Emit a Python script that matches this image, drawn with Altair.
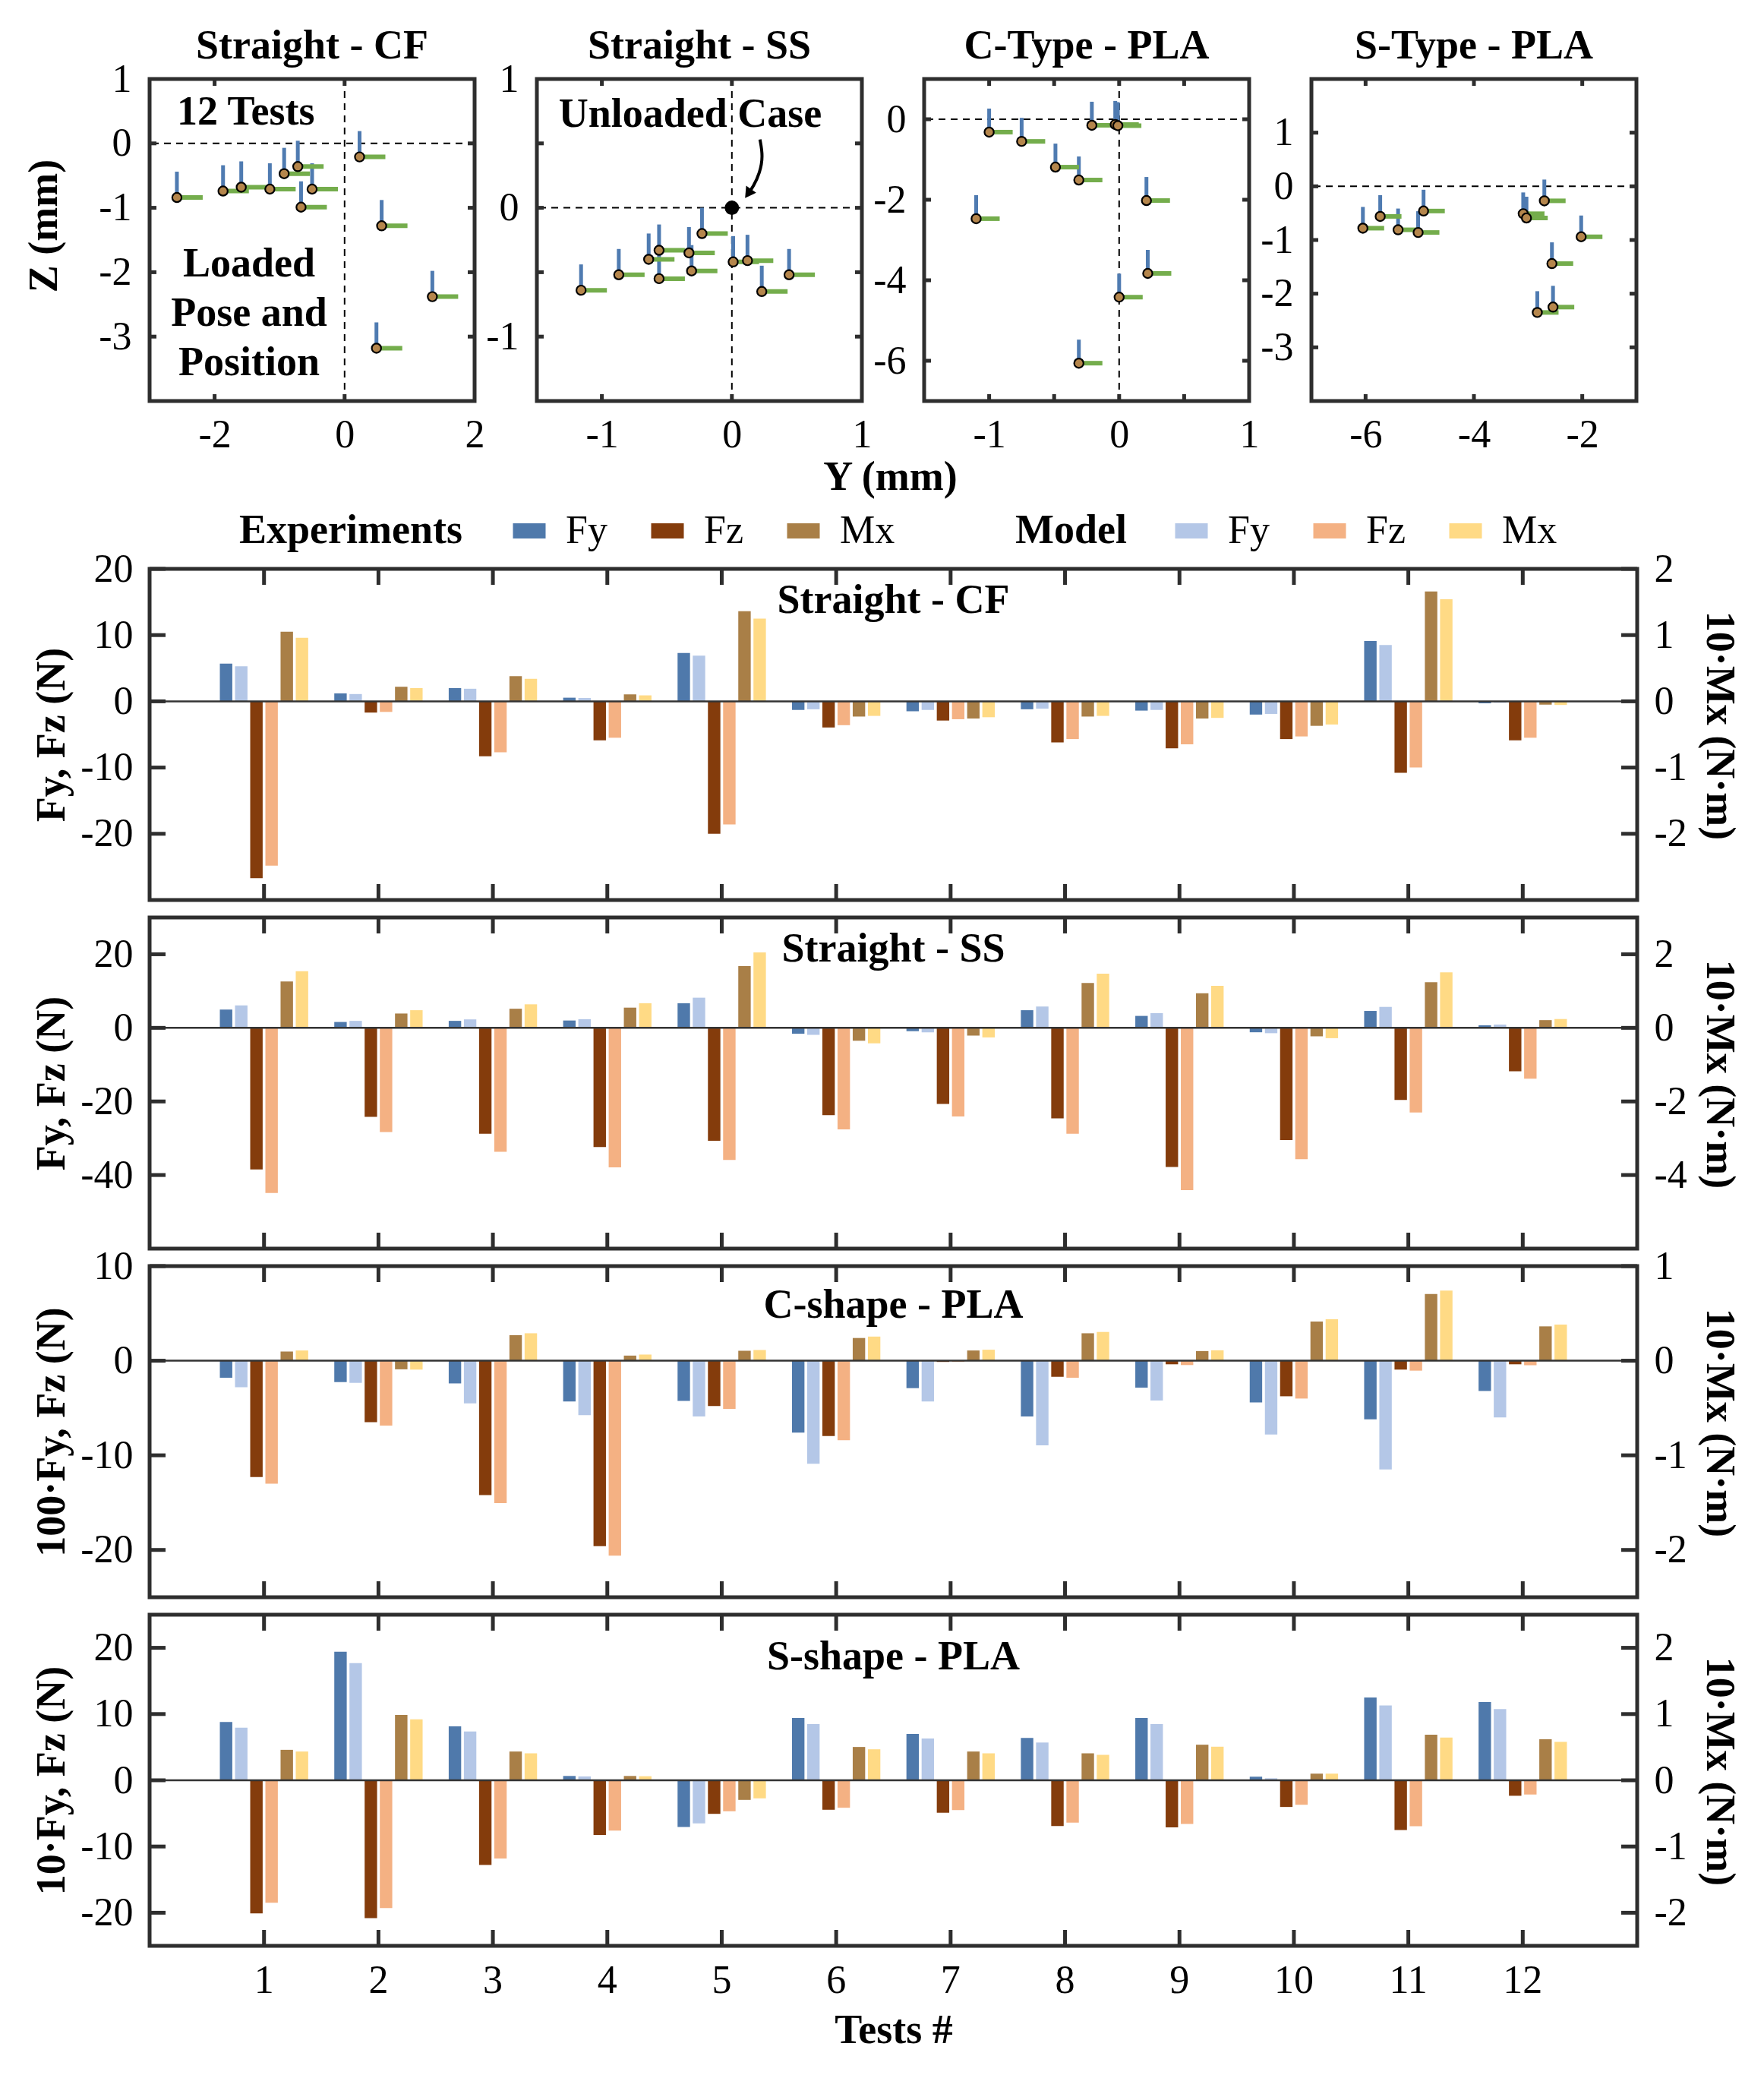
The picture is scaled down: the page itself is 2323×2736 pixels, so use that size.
import altair as alt
import pandas as pd

FONT = "Liberation Serif"
FRAME = "#2e2e2e"
TAN = "#b5864c"
ARM_BLUE = "#4f7bb1"
ARM_GREEN = "#74ad4c"

# ---------------- top row: loaded pose and position (Y, Z in mm) ----------------
CF_Y = [-2.58, -1.87, -1.59, -1.15, -0.93, -0.72, -0.50, -0.67, 0.23, 0.57, 1.35, 0.49]
CF_Z = [-0.84, -0.74, -0.68, -0.71, -0.47, -0.36, -0.71, -0.99, -0.21, -1.28, -2.38, -3.18]
SS_Y = [-1.16, -0.87, -0.64, -0.56, -0.56, -0.33, -0.31, -0.23, 0.01, 0.12, 0.23, 0.44]
SS_Z = [-0.64, -0.52, -0.40, -0.33, -0.55, -0.35, -0.49, -0.20, -0.42, -0.41, -0.65, -0.52]
CT_Y = [-1.00, -0.75, -0.49, -0.31, -1.10, -0.21, -0.03, -0.01, 0.21, 0.22, 0.00, -0.31]
CT_Z = [-0.32, -0.55, -1.19, -1.51, -2.47, -0.15, -0.13, -0.16, -2.02, -3.83, -4.42, -6.06]
ST_Y = [-6.05, -5.73, -5.40, -5.03, -4.93, -3.09, -3.03, -2.70, -2.02, -2.56, -2.54, -2.83]
ST_Z = [-0.78, -0.56, -0.81, -0.86, -0.46, -0.51, -0.59, -0.27, -0.94, -1.44, -2.25, -2.35]
UNLOADED_Y = [0.0]
UNLOADED_Z = [0.0]

# annotations
CF_NOTE_TEXT = ["12 Tests", "Loaded", "Pose and", "Position"]
CF_NOTE_Y = [-1.52, -1.47, -1.47, -1.47]
CF_NOTE_Z = [0.48, -1.88, -2.64, -3.41]
SS_NOTE_TEXT = ["Unloaded Case"]
SS_NOTE_Y = [-0.32]
SS_NOTE_Z = [0.72]
ARROW_Y = [0.216, 0.240, 0.215, 0.165, 0.125]
ARROW_Z = [0.53, 0.40, 0.27, 0.165, 0.110]

# ---------------- bar panels ----------------
TESTS = list(range(1, 13))
SERIES = ["Fy exp", "Fy mod", "Fz exp", "Fz mod", "Mx exp", "Mx mod"]
SERIES_COLORS = ["#4f79ab", "#b4c7e7", "#843c0c", "#f4b183", "#a97f47", "#ffda85"]
LEGEND_ITEMS = ["Fy", "Fz", "Mx"]
EXP_COLORS = ["#4f79ab", "#843c0c", "#a97f47"]
MOD_COLORS = ["#b4c7e7", "#f4b183", "#ffda85"]

CF_FY_EXP = [5.7, 1.2, 2.0, 0.55, 7.3, -1.3, -1.5, -1.2, -1.4, -2.0, 9.1, -0.3]
CF_FY_MOD = [5.3, 1.1, 1.9, 0.5, 6.9, -1.2, -1.3, -1.1, -1.3, -1.9, 8.5, -0.2]
CF_FZ_EXP = [-26.7, -1.7, -8.3, -5.9, -20.0, -3.95, -2.9, -6.2, -7.1, -5.7, -10.8, -5.9]
CF_FZ_MOD = [-24.8, -1.6, -7.7, -5.5, -18.6, -3.6, -2.7, -5.7, -6.5, -5.3, -10.0, -5.5]
CF_MX_EXP = [1.05, 0.22, 0.38, 0.105, 1.36, -0.23, -0.26, -0.23, -0.26, -0.37, 1.66, -0.05]
CF_MX_MOD = [0.96, 0.20, 0.34, 0.09, 1.25, -0.22, -0.24, -0.22, -0.25, -0.35, 1.54, -0.055]

SS_FY_EXP = [4.98, 1.6, 1.9, 2.0, 6.7, -1.6, -0.9, 4.8, 3.25, -1.2, 4.6, 0.7]
SS_FY_MOD = [6.1, 1.9, 2.3, 2.35, 8.2, -1.9, -1.2, 5.8, 4.0, -1.45, 5.7, 0.9]
SS_FZ_EXP = [-38.5, -24.2, -28.8, -32.4, -30.7, -23.7, -20.7, -24.6, -37.8, -30.5, -19.6, -11.8]
SS_FZ_MOD = [-44.9, -28.3, -33.7, -37.9, -35.9, -27.6, -24.1, -28.8, -44.1, -35.7, -23.0, -13.8]
SS_MX_EXP = [1.26, 0.39, 0.52, 0.55, 1.68, -0.35, -0.21, 1.22, 0.94, -0.23, 1.24, 0.21]
SS_MX_MOD = [1.54, 0.48, 0.64, 0.67, 2.05, -0.42, -0.26, 1.47, 1.14, -0.28, 1.51, 0.24]

C_FY_EXP = [-1.8, -2.26, -2.4, -4.3, -4.25, -7.6, -2.9, -5.9, -2.85, -4.4, -6.2, -3.2]
C_FY_MOD = [-2.8, -2.34, -4.5, -5.75, -5.9, -10.9, -4.3, -8.95, -4.2, -7.8, -11.5, -6.0]
C_FZ_EXP = [-12.3, -6.5, -14.2, -19.6, -4.8, -7.96, -0.13, -1.7, -0.38, -3.76, -0.94, -0.38]
C_FZ_MOD = [-13.0, -6.85, -15.05, -20.6, -5.1, -8.4, -0.13, -1.8, -0.46, -4.0, -1.05, -0.48]
C_MX_EXP = [0.097, -0.091, 0.27, 0.054, 0.105, 0.24, 0.108, 0.29, 0.102, 0.414, 0.704, 0.363]
C_MX_MOD = [0.108, -0.094, 0.29, 0.065, 0.113, 0.255, 0.116, 0.304, 0.11, 0.438, 0.742, 0.382]

S_FY_EXP = [8.8, 19.4, 8.14, 0.65, -7.06, 9.4, 7.0, 6.4, 9.4, 0.54, 12.5, 11.8]
S_FY_MOD = [7.95, 17.7, 7.37, 0.58, -6.5, 8.5, 6.3, 5.7, 8.5, 0.3, 11.3, 10.75]
S_FZ_EXP = [-20.1, -20.8, -12.8, -8.25, -5.07, -4.45, -4.9, -6.9, -7.1, -4.03, -7.5, -2.34]
S_FZ_MOD = [-18.5, -19.3, -11.8, -7.6, -4.68, -4.15, -4.5, -6.4, -6.6, -3.7, -6.95, -2.15]
S_MX_EXP = [0.46, 0.987, 0.434, 0.065, -0.296, 0.503, 0.434, 0.407, 0.537, 0.1, 0.687, 0.618]
S_MX_MOD = [0.434, 0.92, 0.407, 0.061, -0.273, 0.468, 0.407, 0.384, 0.507, 0.1, 0.645, 0.58]

LABEL_EXPR = "'' + datum.value"
SW, SH = 428, 424
STICK = 9
BW, BH = 1959, 436
BTICK = 21


def scatter_panel(title, ys, zs, xdom, ydom, xlabels, ylabels, xticks, yticks, arm,
                  ytitle=None, xtitle=None, vline=True, notes=None, extra=None):
    df = pd.DataFrame({"y": ys, "z": zs})
    xs = alt.Scale(domain=xdom, nice=False, zero=False)
    zsc = alt.Scale(domain=ydom, nice=False, zero=False)
    xax = dict(values=xlabels, labelExpr=LABEL_EXPR, ticks=False, domain=False, grid=False,
               labelFont=FONT, labelFontSize=52, labelColor="black", labelPadding=19,
               labelFlush=False, labelOverlap=False)
    if xtitle:
        xax.update(titleFont=FONT, titleFontSize=54, titleFontWeight="bold", titleColor="black",
                   titlePadding=3, titleX=465)
    yax = dict(values=ylabels, labelExpr=LABEL_EXPR, ticks=False, domain=False, grid=False,
               labelFont=FONT, labelFontSize=52, labelColor="black", labelPadding=24,
               labelFlush=False, labelOverlap=False, minExtent=67, maxExtent=67)
    if ytitle:
        yax.update(titleFont=FONT, titleFontSize=54, titleFontWeight="bold", titleColor="black",
                   titlePadding=45, titleY=SH / 2 - 19)

    X = alt.X("y:Q", scale=xs, axis=alt.Axis(**xax), title=xtitle if xtitle else None)
    Y = alt.Y("z:Q", scale=zsc, axis=alt.Axis(**yax), title=ytitle if ytitle else None)

    layers = []
    dash = dict(color="black", strokeWidth=2, strokeDash=[9, 7])
    layers.append(alt.Chart(pd.DataFrame({"z": [0.0]})).mark_rule(**dash).encode(y=Y))
    if vline:
        layers.append(alt.Chart(pd.DataFrame({"y": [0.0]})).mark_rule(**dash).encode(x=X))
    # inward ticks on all four sides
    tick = dict(color=FRAME, strokeWidth=5)
    ydf = pd.DataFrame({"z": yticks})
    xdf = pd.DataFrame({"y": xticks})
    layers.append(alt.Chart(ydf).mark_rule(**tick).encode(y=Y, x=alt.value(0), x2=alt.value(STICK)))
    layers.append(alt.Chart(ydf).mark_rule(**tick).encode(y=Y, x=alt.value(SW), x2=alt.value(SW - STICK)))
    layers.append(alt.Chart(xdf).mark_rule(**tick).encode(x=X, y=alt.value(0), y2=alt.value(STICK)))
    layers.append(alt.Chart(xdf).mark_rule(**tick).encode(x=X, y=alt.value(SH), y2=alt.value(SH - STICK)))
    # orientation arms
    layers.append(alt.Chart(df).mark_rule(color=ARM_BLUE, strokeWidth=5, y2Offset=-arm)
                  .encode(x=X, y=Y, y2="z:Q"))
    layers.append(alt.Chart(df).mark_rule(color=ARM_GREEN, strokeWidth=6, x2Offset=arm)
                  .encode(x=X, x2="y:Q", y=Y))
    # points
    layers.append(alt.Chart(df).mark_circle(fill=TAN, stroke="black", strokeWidth=2.2, size=150, opacity=1)
                  .encode(x=X, y=Y))
    if notes is not None:
        ndf = pd.DataFrame({"y": notes[0], "z": notes[1], "txt": notes[2]})
        layers.append(alt.Chart(ndf).mark_text(font=FONT, fontSize=54, fontWeight="bold", color="black",
                                              align="center", baseline="middle")
                      .encode(x=X, y=Y, text="txt:N"))
    if extra is not None:
        layers.extend(extra(X, Y))
    # panel title as a text mark above the frame (keeps all four titles level)
    layers.append(alt.Chart(pd.DataFrame({"t": [title]})).mark_text(
        font=FONT, fontSize=54, fontWeight="bold", color="black", align="center", baseline="middle"
    ).encode(text="t:N", x=alt.value(SW / 2), y=alt.value(-43)))
    return alt.layer(*layers).properties(width=SW, height=SH)


def ss_extra(X, Y):
    adf = pd.DataFrame({"y": ARROW_Y, "z": ARROW_Z, "i": list(range(len(ARROW_Y)))})
    line = alt.Chart(adf).mark_line(color="black", strokeWidth=4, interpolate="basis").encode(
        x=X, y=Y, order="i:Q")
    head = alt.Chart(adf.tail(1)).mark_point(shape="triangle-up", filled=True, color="black",
                                             size=260, angle=215, opacity=1).encode(x=X, y=Y)
    udf = pd.DataFrame({"y": UNLOADED_Y, "z": UNLOADED_Z})
    dot = alt.Chart(udf).mark_circle(color="black", size=360, opacity=1).encode(x=X, y=Y)
    return [line, head, dot]


p1 = scatter_panel("Straight - CF", CF_Y, CF_Z, [-3, 2], [-4, 1], [-2, 0, 2], [1, 0, -1, -2, -3],
                   [-2, 0], [0, -1, -2, -3], 34, ytitle="Z (mm)",
                   notes=(CF_NOTE_Y, CF_NOTE_Z, CF_NOTE_TEXT))
p2 = scatter_panel("Straight - SS", SS_Y, SS_Z, [-1.5, 1], [-1.5, 1], [-1, 0, 1], [1, 0, -1],
                   [-1, 0], [0.5, 0, -0.5, -1], 34, xtitle="Y (mm)",
                   notes=(SS_NOTE_Y, SS_NOTE_Z, SS_NOTE_TEXT), extra=ss_extra)
p3 = scatter_panel("C-Type - PLA", CT_Y, CT_Z, [-1.5, 1], [-7, 1], [-1, 0, 1], [0, -2, -4, -6],
                   [-1, -0.5, 0, 0.5], [0, -2, -4, -6], 31)
p4 = scatter_panel("S-Type - PLA", ST_Y, ST_Z, [-7, -1], [-4, 2], [-6, -4, -2], [1, 0, -1, -2, -3],
                   [-6, -4, -2], [1, 0, -1, -2, -3], 28, vline=False)

top_row = alt.hconcat(p1, p2, p3, p4, spacing=82, bounds="flush")


def bar_panel(name, fy_e, fy_m, fz_e, fz_m, mx_e, mx_m, ldom, lvals, ltitle, rdom, rvals,
              title_y, bottom=False, legend=False):
    force = pd.DataFrame({
        "test": TESTS * 4,
        "series": ["Fy exp"] * 12 + ["Fy mod"] * 12 + ["Fz exp"] * 12 + ["Fz mod"] * 12,
        "value": fy_e + fy_m + fz_e + fz_m})
    moment = pd.DataFrame({
        "test": TESTS * 2,
        "series": ["Mx exp"] * 12 + ["Mx mod"] * 12,
        "value": mx_e + mx_m})
    xscale = alt.Scale(domain=TESTS, paddingInner=0.228, paddingOuter=0.614)
    if bottom:
        xaxis = alt.Axis(labelFont=FONT, labelFontSize=52, labelColor="black", labelAngle=0,
                         ticks=False, domain=False, grid=False, labelPadding=20,
                         titleFont=FONT, titleFontSize=54, titleFontWeight="bold",
                         titleColor="black", titlePadding=13)
        X = alt.X("test:O", scale=xscale, axis=xaxis, title="Tests #")
    else:
        X = alt.X("test:O", scale=xscale, axis=None)
    xoff = alt.XOffset("series:N", scale=alt.Scale(domain=SERIES, paddingInner=0.18, paddingOuter=0))
    col = alt.Color("series:N", scale=alt.Scale(domain=SERIES, range=SERIES_COLORS), legend=None)
    lsc = alt.Scale(domain=ldom, nice=False, zero=False)
    rsc = alt.Scale(domain=rdom, nice=False, zero=False)
    laxis = alt.Axis(values=lvals, labelExpr=LABEL_EXPR, ticks=False, domain=False, grid=False,
                     labelFont=FONT, labelFontSize=52, labelColor="black", labelPadding=22,
                     labelFlush=False, labelOverlap=False, minExtent=91, maxExtent=91,
                     titleFont=FONT, titleFontSize=54, titleFontWeight="bold", titleColor="black",
                     titlePadding=11)
    raxis = alt.Axis(orient="right", values=rvals, labelExpr=LABEL_EXPR, ticks=False, domain=False,
                     grid=False, labelFont=FONT, labelFontSize=52, labelColor="black", labelPadding=22,
                     labelFlush=False, labelOverlap=False, minExtent=65, maxExtent=65,
                     titleFont=FONT, titleFontSize=54, titleFontWeight="bold", titleColor="black",
                     titlePadding=15, titleY=BH / 2 - 12)
    left = alt.Chart(force).mark_bar().encode(
        x=X, xOffset=xoff, color=col,
        y=alt.Y("value:Q", scale=lsc, axis=laxis, title=ltitle, stack=None))
    right = alt.Chart(moment).mark_bar().encode(
        x=X, xOffset=xoff, color=col,
        y=alt.Y("value:Q", scale=rsc, axis=raxis, title="10·Mx (N·m)", stack=None))
    zero = alt.Chart(pd.DataFrame({"v": [0.0]})).mark_rule(color="#333333", strokeWidth=2.5).encode(
        y=alt.Y("v:Q", scale=lsc, axis=None))
    lt = alt.Chart(pd.DataFrame({"t": lvals})).mark_rule(color=FRAME, strokeWidth=5).encode(
        y=alt.Y("t:Q", scale=lsc, axis=None), x=alt.value(0), x2=alt.value(BTICK))
    rt = alt.Chart(pd.DataFrame({"t": rvals})).mark_rule(color=FRAME, strokeWidth=5).encode(
        y=alt.Y("t:Q", scale=rsc, axis=None), x=alt.value(BW), x2=alt.value(BW - BTICK))
    tdf = pd.DataFrame({"test": TESTS})
    tt = alt.Chart(tdf).mark_rule(color=FRAME, strokeWidth=5).encode(
        x=X, y=alt.value(0), y2=alt.value(BTICK))
    bt = alt.Chart(tdf).mark_rule(color=FRAME, strokeWidth=5).encode(
        x=X, y=alt.value(BH), y2=alt.value(BH - BTICK))
    ttl = alt.Chart(pd.DataFrame({"t": [name]})).mark_text(
        font=FONT, fontSize=54, fontWeight="bold", color="black", align="center", baseline="middle"
    ).encode(text="t:N", x=alt.value(BW / 2), y=alt.value(title_y))
    layers = [left, right, zero, lt, rt, tt, bt, ttl]
    if legend:
        ldf = pd.DataFrame({"label": LEGEND_ITEMS})
        common = dict(orient="none", direction="horizontal", titleOrient="left", titleLimit=800,
                      titleFont=FONT, titleFontSize=54, titleFontWeight="bold", titleColor="black",
                      labelFont=FONT, labelFontSize=52, labelColor="black", labelOffset=22,
                      symbolType="M-1,-0.465H1V0.465H-1Z", symbolSize=1849, symbolStrokeWidth=0,
                      symbolOpacity=1, columnPadding=53, padding=0, legendY=-76)
        exp = alt.Chart(ldf).mark_square(opacity=0).encode(
            x=alt.value(0), y=alt.value(0),
            color=alt.Color("label:N", scale=alt.Scale(domain=LEGEND_ITEMS, range=EXP_COLORS),
                            legend=alt.Legend(title="Experiments", legendX=118, titlePadding=62, **common)))
        mod = alt.Chart(ldf).mark_square(opacity=0).encode(
            x=alt.value(0), y=alt.value(0),
            color=alt.Color("label:N", scale=alt.Scale(domain=LEGEND_ITEMS, range=MOD_COLORS),
                            legend=alt.Legend(title="Model", legendX=1140, titlePadding=59, **common)))
        layers += [exp, mod]
    return alt.layer(*layers).resolve_scale(y="independent", color="independent").resolve_legend(
        color="independent").properties(width=BW, height=BH)


pa = bar_panel("Straight - CF", CF_FY_EXP, CF_FY_MOD, CF_FZ_EXP, CF_FZ_MOD, CF_MX_EXP, CF_MX_MOD,
               [-30, 20], [20, 10, 0, -10, -20], "Fy, Fz (N)", [-3, 2], [2, 1, 0, -1, -2], 42, legend=True)
pb = bar_panel("Straight - SS", SS_FY_EXP, SS_FY_MOD, SS_FZ_EXP, SS_FZ_MOD, SS_MX_EXP, SS_MX_MOD,
               [-60, 30], [20, 0, -20, -40], "Fy, Fz (N)", [-6, 3], [2, 0, -2, -4], 42)
pc = bar_panel("C-shape - PLA", C_FY_EXP, C_FY_MOD, C_FZ_EXP, C_FZ_MOD, C_MX_EXP, C_MX_MOD,
               [-25, 10], [10, 0, -10, -20], "100·Fy, Fz (N)", [-2.5, 1], [1, 0, -1, -2], 52)
pd_ = bar_panel("S-shape - PLA", S_FY_EXP, S_FY_MOD, S_FZ_EXP, S_FZ_MOD, S_MX_EXP, S_MX_MOD,
                [-25, 25], [20, 10, 0, -10, -20], "10·Fy, Fz (N)", [-2.5, 2.5], [2, 1, 0, -1, -2], 56,
                bottom=True)

bars = alt.vconcat(pa, pb, pc, pd_, spacing=23, bounds="flush").resolve_scale(
    color="independent").resolve_legend(color="independent")

chart = alt.vconcat(top_row, bars, spacing=12).resolve_scale(
    color="independent").resolve_legend(color="independent").properties(
    padding={"left": 20, "top": 23, "right": 5, "bottom": 5}, background="white"
).configure_view(stroke=FRAME, strokeWidth=5)

chart.save("out.html", embed_options={"renderer": "svg", "actions": False})
